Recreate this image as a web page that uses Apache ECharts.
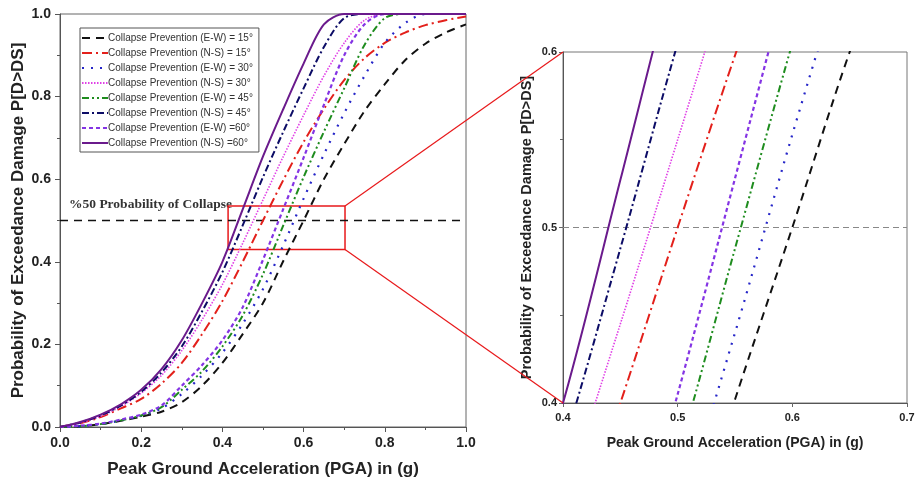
<!DOCTYPE html>
<html><head><meta charset="utf-8">
<script src="https://cdn.jsdelivr.net/npm/echarts@6/dist/echarts.min.js"></script>
<style>html,body{margin:0;padding:0;background:#fff}#c{width:918px;height:488px}</style>
</head><body><div id="c"></div><script>
// ---- data ----
const pga = [0,0.05,0.1,0.15,0.2,0.25,0.3,0.35,0.4,0.45,0.5,0.55,0.6,0.65,0.7,0.75,0.8,0.85,0.9,0.95,1.0];
const cpEW15 = [0,0.002,0.007,0.015,0.025,0.037,0.06,0.10,0.155,0.225,0.30,0.402,0.50,0.60,0.685,0.765,0.83,0.888,0.928,0.955,0.975];
const cpNS15 = [0,0.009,0.024,0.045,0.068,0.105,0.155,0.225,0.305,0.40,0.50,0.598,0.69,0.77,0.84,0.893,0.93,0.955,0.973,0.985,0.994];
const cpEW30 = [0,0.002,0.007,0.016,0.027,0.045,0.08,0.125,0.18,0.25,0.334,0.44,0.553,0.66,0.76,0.85,0.93,0.978,1.0,1.0,1.0];
const cpNS30 = [0,0.01,0.026,0.05,0.082,0.125,0.185,0.26,0.345,0.445,0.55,0.655,0.755,0.85,0.93,0.985,1.0,1.0,1.0,1.0,1.0];
const cpEW45 = [0,0.002,0.007,0.016,0.028,0.048,0.09,0.135,0.195,0.27,0.37,0.488,0.605,0.715,0.82,0.925,0.99,1.0,1.0,1.0,1.0];
const cpNS45 = [0,0.011,0.028,0.052,0.085,0.132,0.195,0.28,0.375,0.488,0.605,0.715,0.82,0.92,0.99,1.0,1.0,1.0,1.0,1.0,1.0];
const cpEW60 = [0,0.003,0.008,0.018,0.03,0.052,0.10,0.15,0.21,0.29,0.405,0.528,0.652,0.78,0.9,0.975,1.0,1.0,1.0,1.0,1.0];
const cpNS60 = [0,0.012,0.03,0.055,0.09,0.14,0.21,0.30,0.40,0.527,0.655,0.77,0.88,0.975,1.0,1.0,1.0,1.0,1.0,1.0,1.0];
const seriesNames = [
  'Collapse Prevention (E-W) = 15°','Collapse Prevention (N-S) = 15°',
  'Collapse Prevention (E-W) = 30°','Collapse Prevention (N-S) = 30°',
  'Collapse Prevention (E-W) = 45°','Collapse Prevention (N-S) = 45°',
  'Collapse Prevention (E-W) =60°','Collapse Prevention (N-S) =60°'
];
const seriesValues = [cpEW15,cpNS15,cpEW30,cpNS30,cpEW45,cpNS45,cpEW60,cpNS60];
const collapseLevel = 0.5;
const leftXTicks = [0,1,0.2];      // min, max, interval
const leftYTicks = [0,1,0.2];
const zoomXTicks = [0.4,0.7,0.1];
const zoomYTicks = [0.4,0.6,0.1];
const zoomBoxX = [0.414,0.702];
const zoomBoxY = [0.43,0.535];

// ---- styles ----
const styles = [
  {color:'#111111', type:[8,6], width:2},
  {color:'#e3201b', type:[10,4,2,4], width:2},
  {color:'#2626c8', type:[2,7], width:2.2},
  {color:'#e040e6', type:[1.5,1.5], width:1.6},
  {color:'#1e8c1e', type:[7,3,2,3,2,3], width:2},
  {color:'#0c0c66', type:[7,3,2,3], width:2},
  {color:'#8434e4', type:[4,3], width:2.2},
  {color:'#6a1a8c', type:'solid', width:2}
];
const bold = {fontFamily:'Arial, Liberation Sans, sans-serif', fontWeight:'bold', color:'#222'};

const series = [];
for (let g = 0; g < 2; g++) {
  seriesValues.forEach((vals, i) => {
    const st = styles[i];
    series.push({
      type:'line', name:seriesNames[i], xAxisIndex:g, yAxisIndex:g,
      data: pga.map((x, k) => [x, vals[k]]),
      showSymbol:false, symbol:'none', smooth:0.3, clip:true,
      lineStyle:{color:st.color, type:st.type, width:st.width},
      itemStyle:{color:st.color}, z: 3
    });
  });
}
// reference 50% lines
series.push({
  type:'line', name:'ref50', xAxisIndex:0, yAxisIndex:0, symbol:'none', silent:true,
  data:[[leftXTicks[0], collapseLevel],[leftXTicks[1], collapseLevel]],
  lineStyle:{color:'#111', type:[8,6], width:1.6}, z:2,
  markArea:{silent:true, itemStyle:{color:'rgba(0,0,0,0)', borderColor:'#e8191b', borderWidth:1.5},
    data:[[{coord:[zoomBoxX[0], zoomBoxY[1]]},{coord:[zoomBoxX[1], zoomBoxY[0]]}]]}
});
series.push({
  type:'line', name:'ref50z', xAxisIndex:1, yAxisIndex:1, symbol:'none', silent:true,
  data:[[zoomXTicks[0], collapseLevel],[zoomXTicks[1], collapseLevel]],
  lineStyle:{color:'#888', type:[6,4], width:1.2}, z:2
});

const axisLine = {show:true, lineStyle:{color:'#555', width:1}};
const chart = echarts.init(document.getElementById('c'), null, {renderer:'canvas'});
const labelText = {type:'text', left:69, top:198, style:{text:'%50 Probability of Collapse',
    font:'bold 13.5px "Liberation Serif", "Times New Roman", serif', fill:'#333'}};
chart.setOption({
  animation:false,
  backgroundColor:'#fff',
  grid:[
    {left:60, top:14, width:406, height:413, show:true, borderColor:'#666', borderWidth:1, containLabel:false},
    {left:563, top:52, width:344, height:351, show:true, borderColor:'#777', borderWidth:1, containLabel:false}
  ],
  xAxis:[
    {type:'value', gridIndex:0, min:leftXTicks[0], max:leftXTicks[1], interval:leftXTicks[2],
     axisLine, axisTick:{show:true, inside:false, length:5, lineStyle:{color:'#555'}},
     minorTick:{show:true, splitNumber:2, length:3, lineStyle:{color:'#555'}},
     splitLine:{show:false},
     axisLabel:{...bold, fontSize:14, margin:9, formatter:v=>v.toFixed(1)},
     name:'Peak Ground Acceleration (PGA) in (g)', nameLocation:'middle', nameGap:34,
     nameTextStyle:{...bold, fontSize:17}},
    {type:'value', gridIndex:1, min:zoomXTicks[0], max:zoomXTicks[1], interval:zoomXTicks[2],
     axisLine, axisTick:{show:true, inside:false, length:4, lineStyle:{color:'#666'}},
     splitLine:{show:false},
     axisLabel:{...bold, fontSize:11, margin:9, formatter:v=>v.toFixed(1)},
     name:'Peak Ground Acceleration (PGA) in (g)', nameLocation:'middle', nameGap:33,
     nameTextStyle:{...bold, fontSize:14}}
  ],
  yAxis:[
    {type:'value', gridIndex:0, min:leftYTicks[0], max:leftYTicks[1], interval:leftYTicks[2],
     axisLine, axisTick:{show:true, inside:false, length:5, lineStyle:{color:'#555'}},
     minorTick:{show:true, splitNumber:2, length:3, lineStyle:{color:'#555'}},
     splitLine:{show:false},
     axisLabel:{...bold, fontSize:14, margin:9, formatter:v=>v.toFixed(1)},
     name:'Probability of Exceedance Damage P[D>DS]', nameLocation:'middle', nameGap:33,
     nameTextStyle:{...bold, fontSize:17}},
    {type:'value', gridIndex:1, min:zoomYTicks[0], max:zoomYTicks[1], interval:zoomYTicks[2],
     axisLine, axisTick:{show:true, inside:false, length:4, lineStyle:{color:'#666'}},
     minorTick:{show:true, splitNumber:2, length:3, lineStyle:{color:'#666'}},
     splitLine:{show:false},
     axisLabel:{...bold, fontSize:11, margin:6, formatter:v=>v.toFixed(1)},
     name:'Probability of Exceedance Damage P[D>DS]', nameLocation:'middle', nameGap:29,
     nameTextStyle:{...bold, fontSize:14.5}}
  ],
  legend:{
    data:seriesNames, orient:'vertical', left:80, top:28,
    itemWidth:26, itemHeight:10, itemGap:5,
    itemStyle:{opacity:0},
    padding:[5,6,4,1], borderColor:'#555', borderWidth:1, backgroundColor:'#fff',
    textStyle:{fontFamily:'Arial, Liberation Sans, sans-serif', fontSize:10, color:'#333', padding:[0,0,0,-5]},
    selectedMode:false
  },
  graphic:[labelText],
  series
});

// connector lines from the zoom box to the magnified panel
const p1 = chart.convertToPixel({gridIndex:0}, [zoomBoxX[1], zoomBoxY[1]]);
const p2 = chart.convertToPixel({gridIndex:0}, [zoomBoxX[1], zoomBoxY[0]]);
const q1 = chart.convertToPixel({gridIndex:1}, [zoomXTicks[0], zoomYTicks[1]]);
const q2 = chart.convertToPixel({gridIndex:1}, [zoomXTicks[0], zoomYTicks[0]]);
chart.setOption({graphic:[
  labelText,
  {type:'line', shape:{x1:p1[0], y1:p1[1], x2:q1[0], y2:q1[1]}, style:{stroke:'#e8191b', lineWidth:1.2}, z:10},
  {type:'line', shape:{x1:p2[0], y1:p2[1], x2:q2[0], y2:q2[1]}, style:{stroke:'#e8191b', lineWidth:1.2}, z:10}
]});
</script></body></html>
